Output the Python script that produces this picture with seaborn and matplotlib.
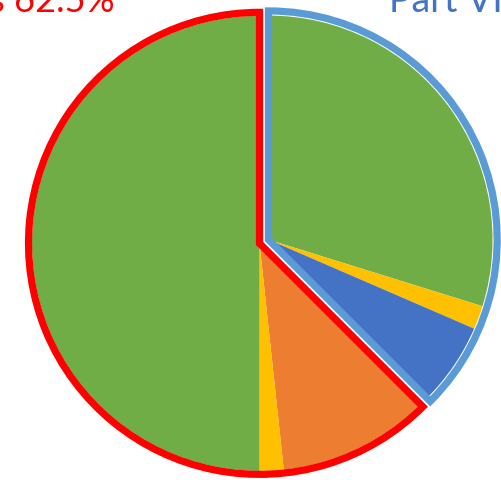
import numpy as np
import matplotlib
matplotlib.use("Agg")
import matplotlib.pyplot as plt
import seaborn as sns

# slice shares (percent), clockwise from 12 o'clock
part_vi_values = [29.8, 1.7, 6.0]
part_vi_colors = ["#70AD47", "#FFC000", "#4472C4"]
part_v_values = [10.8, 1.7, 50.0]
part_v_colors = ["#ED7D31", "#FFC000", "#70AD47"]

part_v_label = "Part V is 62.5%"
part_vi_label = "Part VI is 37.5%"

sns.set_theme(style="white")
plt.rcParams["font.family"] = ["Lato", "DejaVu Sans"]

W, H = 502, 480
unit = 231.0           # pixels per data unit
cx, cy = 264.0, 241.5  # pie centre in pixels from top-left

fig = plt.figure(figsize=(W / 100, H / 100), dpi=100)
ax = fig.add_axes([0, 0, 1, 1])

vi_total = sum(part_vi_values)
v_total = sum(part_v_values)

# each group is pulled slightly out along its own middle angle
d = 0.021
vi_mid = np.deg2rad(90 - vi_total / 100 * 360 / 2)
v_mid = np.deg2rad(90 - vi_total / 100 * 360 - v_total / 100 * 360 / 2)
vi_center = (d * np.cos(vi_mid), d * np.sin(vi_mid))
v_center = (d * np.cos(v_mid), d * np.sin(v_mid))

# Part VI slices
wedges, _ = ax.pie(part_vi_values + [v_total], colors=part_vi_colors + ["none"],
                   startangle=90, counterclock=False, radius=0.97,
                   center=vi_center, wedgeprops=dict(linewidth=0))
wedges[-1].set_visible(False)

# Part V slices
wedges, _ = ax.pie([vi_total] + part_v_values, colors=["none"] + part_v_colors,
                   startangle=90, counterclock=False, radius=0.985,
                   center=v_center, wedgeprops=dict(linewidth=0))
wedges[0].set_visible(False)

# group outlines
wedges, _ = ax.pie([vi_total, v_total], startangle=90, counterclock=False,
                   radius=0.99, center=vi_center,
                   wedgeprops=dict(fill=False, linewidth=5.2, edgecolor="#5B9BD5",
                                   joinstyle="miter"))
wedges[1].set_visible(False)

wedges, _ = ax.pie([vi_total, v_total], startangle=90, counterclock=False,
                   radius=1.0, center=v_center,
                   wedgeprops=dict(fill=False, linewidth=5.2, edgecolor="#FF0000",
                                   joinstyle="miter"))
wedges[0].set_visible(False)

ax.set_xlim(-cx / unit, (W - cx) / unit)
ax.set_ylim(-(H - cy) / unit, cy / unit)
ax.set_aspect("auto")
ax.axis("off")

fig.text(115 / W, 1 - 12 / H, part_v_label, color="#FF0000", fontsize=26,
         ha="right", va="baseline")
fig.text(389 / W, 1 - 12 / H, part_vi_label, color="#4472C4", fontsize=27,
         ha="left", va="baseline")

fig.savefig("out.png", dpi=100)
